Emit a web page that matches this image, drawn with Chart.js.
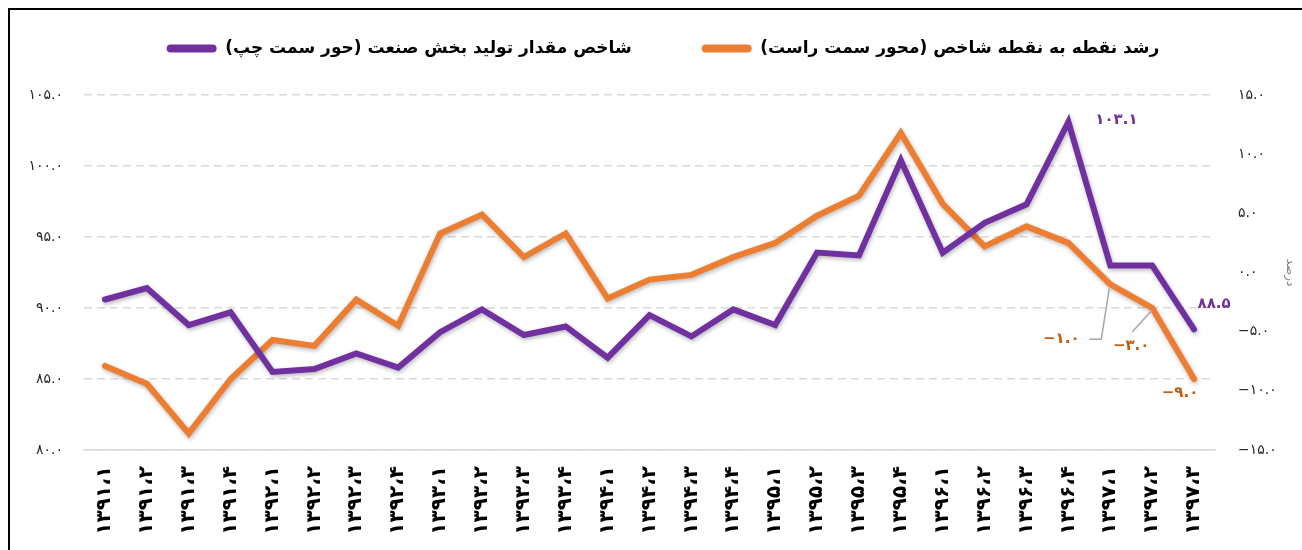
<!DOCTYPE html>
<html lang="fa">
<head>
<meta charset="utf-8">
<title>شاخص مقدار تولید بخش صنعت</title>
<script src="https://cdn.jsdelivr.net/npm/chart.js@4.4.1/dist/chart.umd.min.js"></script>
<style>
  html, body { margin: 0; padding: 0; background: #fff; }
  #wrap { position: relative; width: 1302px; height: 550px; overflow: hidden; }
  #frame { position: absolute; left: 8px; top: 8px; width: 1400px; height: 600px;
           border-left: 2px solid #000; border-top: 2px solid #000; pointer-events: none; }
  canvas { display: block; direction: ltr; }
</style>
</head>
<body>
<div id="wrap">
  <canvas id="chart" width="1302" height="550"></canvas>
  <div id="frame"></div>
</div>
<script>
// quarters (year،quarter)
const periods = [
  '۱۳۹۱،۱', '۱۳۹۱،۲', '۱۳۹۱،۳', '۱۳۹۱،۴',
  '۱۳۹۲،۱', '۱۳۹۲،۲', '۱۳۹۲،۳', '۱۳۹۲،۴',
  '۱۳۹۳،۱', '۱۳۹۳،۲', '۱۳۹۳،۳', '۱۳۹۳،۴',
  '۱۳۹۴،۱', '۱۳۹۴،۲', '۱۳۹۴،۳', '۱۳۹۴،۴',
  '۱۳۹۵،۱', '۱۳۹۵،۲', '۱۳۹۵،۳', '۱۳۹۵،۴',
  '۱۳۹۶،۱', '۱۳۹۶،۲', '۱۳۹۶،۳', '۱۳۹۶،۴',
  '۱۳۹۷،۱', '۱۳۹۷،۲', '۱۳۹۷،۳'
];

// industry production index (left axis)
const indexValues = [
  90.6, 91.4, 88.8, 89.7, 85.5, 85.7, 86.8, 85.8,
  88.3, 89.9, 88.1, 88.7, 86.5, 89.5, 88.0, 89.9,
  88.8, 93.9, 93.7, 100.4, 93.9, 96.0, 97.3, 103.1,
  93.0, 93.0, 88.5
];

// point-to-point growth, percent (right axis)
const growthValues = [
  -7.9, -9.4, -13.6, -9.0, -5.7, -6.2, -2.3, -4.5,
  3.3, 4.9, 1.3, 3.3, -2.2, -0.6, -0.2, 1.3,
  2.5, 4.8, 6.5, 11.8, 5.8, 2.2, 3.9, 2.5,
  -1.0, -3.0, -9.0
];

const leftTicks = [80, 85, 90, 95, 100, 105];
const rightTicks = [-15, -10, -5, 0, 5, 10, 15];

const indexLabel = 'شاخص مقدار تولید بخش صنعت (حور سمت چپ)';
const growthLabel = 'رشد نقطه به نقطه شاخص (محور سمت راست)';
const rightTitle = 'درصد';

const PURPLE = '#7030A0';
const ORANGE = '#ED7D31';
const ORANGE_TEXT = '#C55A11';
const FONT = '"DejaVu Sans", sans-serif';

function toFa(v) {
  const s = Number(v).toFixed(1).replace('-', '−');
  return s.replace(/[0-9]/g, d => '۰۱۲۳۴۵۶۷۸۹'[d]);
}

// wrap right-to-left text so brackets come out right on an ltr canvas
const rtl = s => '\u202B' + s + '\u202C';

// soft shadow under the lines
const lineShadow = {
  id: 'lineShadow',
  beforeDatasetDraw(chart) {
    const ctx = chart.ctx;
    ctx.save();
    ctx.shadowColor = 'rgba(0,0,0,0.28)';
    ctx.shadowBlur = 4;
    ctx.shadowOffsetX = 1;
    ctx.shadowOffsetY = 2;
  },
  afterDatasetDraw(chart) {
    chart.ctx.restore();
  }
};

// extra room below the legend
const legendRoom = {
  id: 'legendRoom',
  beforeInit(chart) {
    const fit = chart.legend.fit;
    chart.legend.fit = function () {
      fit.bind(chart.legend)();
      this.height += 28;
    };
  }
};

// value labels on selected points
const pointLabels = {
  id: 'pointLabels',
  afterDatasetsDraw(chart) {
    const ctx = chart.ctx;
    const purple = chart.getDatasetMeta(0).data;
    const orange = chart.getDatasetMeta(1).data;
    ctx.save();
    ctx.font = 'bold 15px ' + FONT;
    ctx.textAlign = 'center';
    ctx.textBaseline = 'middle';

    const text = (pt, dx, dy, str, color) => {
      ctx.fillStyle = color;
      ctx.fillText(str, pt.x + dx, pt.y + dy);
    };
    const leader = (pt, pts) => {
      ctx.strokeStyle = '#a6a6a6';
      ctx.lineWidth = 1.5;
      ctx.beginPath();
      pts.forEach(([dx, dy], i) => {
        if (i === 0) ctx.moveTo(pt.x + dx, pt.y + dy);
        else ctx.lineTo(pt.x + dx, pt.y + dy);
      });
      ctx.stroke();
    };

    text(purple[23], 48, -2, toFa(indexValues[23]), PURPLE);
    text(purple[26], 20, -25, toFa(indexValues[26]), PURPLE);

    leader(orange[24], [[-1, 4], [-9, 55], [-21, 55]]);
    text(orange[24], -49, 55, toFa(growthValues[24]), ORANGE_TEXT);
    leader(orange[25], [[0, 2], [-20, 24]]);
    text(orange[25], -21, 38, toFa(growthValues[25]), ORANGE_TEXT);
    text(orange[26], -14, 14, toFa(growthValues[26]), ORANGE_TEXT);
    ctx.restore();
  }
};

const ctx = document.getElementById('chart').getContext('2d');

new Chart(ctx, {
  type: 'line',
  data: {
    labels: periods,
    datasets: [{
      label: rtl(indexLabel),
      data: indexValues,
      yAxisID: 'yLeft',
      borderColor: PURPLE,
      backgroundColor: PURPLE,
      borderWidth: 6,
      pointRadius: 0,
      tension: 0,
      borderCapStyle: 'round'
    }, {
      label: rtl(growthLabel),
      data: growthValues,
      yAxisID: 'yRight',
      borderColor: ORANGE,
      backgroundColor: ORANGE,
      borderWidth: 6,
      pointRadius: 0,
      tension: 0,
      borderCapStyle: 'round'
    }]
  },
  options: {
    responsive: false,
    animation: false,
    layout: { padding: { left: 24, right: 0, top: -30, bottom: 0 } },
    plugins: {
      tooltip: { enabled: false },
      legend: {
        position: 'top',
        labels: {
          font: { family: FONT, size: 17, weight: 'bold' },
          color: '#000',
          boxWidth: 50,
          boxHeight: 8,
          useBorderRadius: true,
          borderRadius: 4,
          padding: 70,
          generateLabels(chart) {
            return Chart.defaults.plugins.legend.labels.generateLabels(chart)
              .map(item => Object.assign(item, { lineWidth: 0 }));
          }
        }
      }
    },
    scales: {
      x: {
        offset: true,
        grid: { display: false },
        border: { display: true, color: '#d9d9d9', width: 1.5 },
        ticks: {
          autoSkip: false,
          minRotation: 90,
          maxRotation: 90,
          padding: 8,
          color: '#000',
          font: { family: FONT, size: 20, weight: 'bold' }
        },
        afterFit(scale) { scale.height = 100; }
      },
      yLeft: {
        position: 'left',
        min: 80,
        max: 105,
        afterBuildTicks(scale) { scale.ticks = leftTicks.map(v => ({ value: v })); },
        ticks: {
          padding: 21,
          color: '#262626',
          font: { family: FONT, size: 14 },
          callback: v => toFa(v)
        },
        grid: { color: '#d9d9d9', lineWidth: 1.5, drawTicks: false },
        border: { display: false, dash: [8, 5] },
        afterFit(scale) { scale.width = 60; }
      },
      yRight: {
        position: 'right',
        min: -15,
        max: 15,
        afterBuildTicks(scale) { scale.ticks = rightTicks.map(v => ({ value: v })); },
        ticks: {
          padding: 23,
          color: '#262626',
          font: { family: FONT, size: 14 },
          callback: v => toFa(v)
        },
        grid: { drawOnChartArea: false, drawTicks: false },
        border: { display: false },
        title: {
          display: true,
          text: rightTitle,
          color: '#7f7f7f',
          font: { family: FONT, size: 12 },
          padding: { top: 5, bottom: 0 }
        },
        afterFit(scale) { scale.width = 87; }
      }
    }
  },
  plugins: [lineShadow, legendRoom, pointLabels]
});
</script>
</body>
</html>
